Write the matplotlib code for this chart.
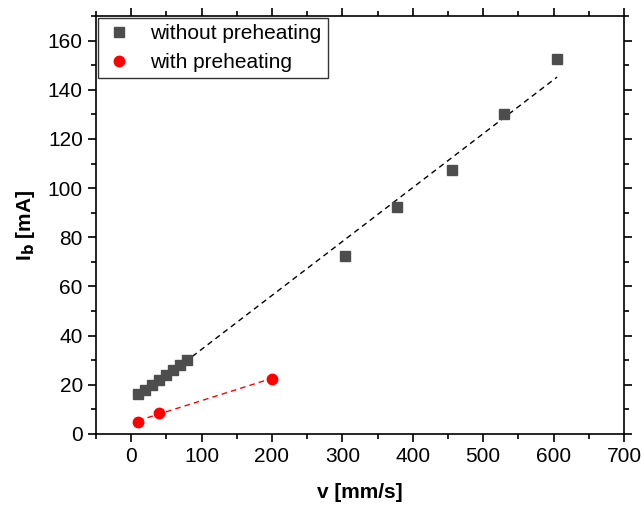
import numpy as np
import matplotlib
matplotlib.use('Agg')
import matplotlib.pyplot as plt
from matplotlib.ticker import MultipleLocator

plt.rcParams['font.family'] = ['Liberation Sans', 'DejaVu Sans']

# data
v_without = [10, 20, 30, 40, 50, 60, 70, 80, 303, 378, 455, 530, 605]
i_without = [16, 18, 20, 22, 24, 26, 28, 30, 72.5, 92.5, 107.5, 130, 152.5]
v_with = [10, 40, 200]
i_with = [5, 8.5, 22.5]

fig = plt.figure(figsize=(6.44, 5.05), dpi=100)
ax = fig.add_axes([0.149, 0.141, 0.820, 0.827])

# linear fits
p1 = np.polyfit(v_without, i_without, 1)
xf1 = np.array([min(v_without), max(v_without)])
ax.plot(xf1, np.polyval(p1, xf1), '--', color='black', lw=1, dashes=(4, 3))
p2 = np.polyfit(v_with, i_with, 1)
xf2 = np.array([min(v_with), max(v_with)])
ax.plot(xf2, np.polyval(p2, xf2), '--', color='red', lw=1, dashes=(4, 3))
ax.plot(xf2, [0, 0], '--', color='#bbbbbb', lw=0.8, dashes=(4, 3))

ax.plot(v_without, i_without, 's', color='#4d4d4d', ms=7, ls='none',
        label='without preheating')
ax.plot(v_with, i_with, 'o', color='red', ms=7.5, ls='none',
        label='with preheating')

ax.set_xlim(-50, 700)
ax.set_ylim(0, 170)
ax.xaxis.set_major_locator(MultipleLocator(100))
ax.xaxis.set_minor_locator(MultipleLocator(50))
ax.yaxis.set_major_locator(MultipleLocator(20))
ax.yaxis.set_minor_locator(MultipleLocator(10))
ax.tick_params(which='both', direction='out', top=True, right=True,
               labelsize=15, width=1.2)
ax.tick_params(which='major', length=6)
ax.tick_params(which='minor', length=3.5)
for s in ax.spines.values():
    s.set_linewidth(1.2)

ax.set_xlabel('v [mm/s]', fontsize=15, fontweight='bold', labelpad=12)
ax.set_ylabel(r'I$_\mathbf{b}$ [mA]', fontsize=15, fontweight='bold', labelpad=8)

leg = ax.legend(loc='upper left', fontsize=15, frameon=True, fancybox=False,
                edgecolor='black', borderaxespad=0.1, handletextpad=0.8,
                borderpad=0.3, labelspacing=0.45, handlelength=1.4)
leg.get_frame().set_linewidth(1)

fig.savefig('out.png', dpi=100)
